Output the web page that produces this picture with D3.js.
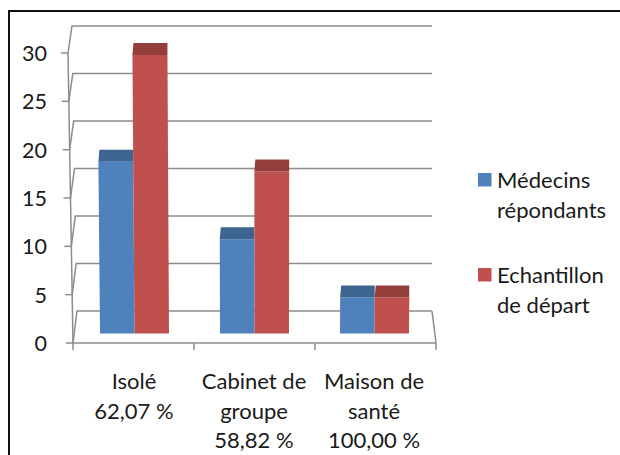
<!DOCTYPE html>
<html>
<head>
<meta charset="utf-8">
<script src="https://cdn.jsdelivr.net/npm/d3@7"></script>
<style>
  html, body { margin: 0; padding: 0; background: #fff; overflow: hidden; }
  text { font-family: Lato, "Open Sans", sans-serif; fill: #1a1a1a; }
</style>
</head>
<body>
<div id="chart"></div>
<script>
// data
const categories = ['Isolé', 'Cabinet de groupe', 'Maison de santé'];
const categoryLines = [['Isolé', '62,07 %'], ['Cabinet de', 'groupe', '58,82 %'], ['Maison de', 'santé', '100,00 %']];
const repondants = [19, 11, 5];
const echantillon = [30, 18, 5];
const yTicks = [0, 5, 10, 15, 20, 25, 30];
const seriesNames = [['Médecins', 'répondants'], ['Echantillon', 'de départ']];
const colors = ['#4f81bd', '#c0504d'];
const capColors = ['#3d6590', '#933e3b'];

const width = 620, height = 455;
const svg = d3.select('#chart').append('svg')
  .attr('width', width).attr('height', height);

// frame, runs off the picture on the right and at the bottom
svg.append('rect')
  .attr('x', 9).attr('y', 11).attr('width', 640).attr('height', 470)
  .attr('fill', '#fff').attr('stroke', '#111').attr('stroke-width', 2);

// scales
const yFront = d3.scaleLinear().domain([0, 30]).range([343, 53]);
const yBack = d3.scaleLinear().domain([0, 30]).range([311, 26]);
const yBar = d3.scaleLinear().domain([0, 30]).range([346, 55]);
const xFront = d3.scaleBand().domain(categories).range([73, 436]);
const xBars = d3.scaleBand().domain(categories).range([74.5, 434.5]);
const xInner = d3.scaleBand().domain([0, 1]).range([25.5, 94.5]);

// the walls lean in slightly going up
const lean = d3.scaleLinear().domain([0, 30]).range([0, 5]);
const grey = '#8c8c8c';
const backLeft = 77, backRight = 432, frontLeft = 73, frontRight = 436;

const grid = svg.append('g').attr('fill', 'none').attr('stroke', grey).attr('stroke-width', 1.5);
yTicks.forEach(v => {
  grid.append('path').attr('d', d3.line()([
    [frontLeft - lean(v), yFront(v)],
    [backLeft - lean(v), yBack(v)],
    [backRight, yBack(v)]
  ]));
  grid.append('line')
    .attr('x1', frontLeft - lean(v) - 7).attr('x2', frontLeft - lean(v))
    .attr('y1', yFront(v)).attr('y2', yFront(v));
  svg.append('text')
    .attr('x', 47).attr('y', yFront(v) + 8)
    .attr('text-anchor', 'end').attr('font-size', 21.5)
    .text(v);
});
grid.append('line')
  .attr('x1', frontLeft).attr('y1', yFront(0))
  .attr('x2', frontLeft - lean(30)).attr('y2', yFront(30));
grid.append('line')
  .attr('x1', frontLeft).attr('y1', yFront(0))
  .attr('x2', frontRight).attr('y2', yFront(0));
grid.append('line')
  .attr('x1', backRight).attr('y1', yBack(0))
  .attr('x2', frontRight).attr('y2', yFront(0));
categories.concat([null]).forEach(c => {
  const x0 = c ? xFront(c) : frontRight;
  grid.append('line').attr('x1', x0).attr('x2', x0).attr('y1', yFront(0)).attr('y2', yFront(0) + 7);
});

// bars, base sits a little above the front edge of the floor
const barBase = 1.3;
const capH = 12;
const skew = (x, v) => x + (x - 270) * 0.000055 * (yBar(barBase) - yBar(v));

[repondants, echantillon].forEach((vals, s) => {
  const g = svg.append('g');
  vals.forEach((v, i) => {
    const left = xBars(categories[i]) + xInner(s);
    const right = left + xInner.bandwidth();
    g.append('path').attr('d', d3.line()([
      [skew(left, barBase), yBar(barBase)],
      [skew(right, barBase), yBar(barBase)],
      [skew(right, v), yBar(v)],
      [skew(left, v), yBar(v)]
    ]) + 'Z').attr('fill', colors[s]);
    g.append('path').attr('d', d3.line()([
      [skew(left, v), yBar(v)],
      [skew(right, v), yBar(v)],
      [skew(right, v), yBar(v) - capH],
      [skew(left, v) + 1, yBar(v) - capH]
    ]) + 'Z').attr('fill', capColors[s]);
  });
});

// category labels
categoryLines.forEach((lines, i) => {
  const cx = xBars(categories[i]) + xBars.bandwidth() / 2 - 0.5;
  lines.forEach((t, k) => {
    svg.append('text')
      .attr('x', cx).attr('y', 389 + k * 29.7)
      .attr('text-anchor', 'middle').attr('font-size', 22)
      .text(t);
  });
});

// legend
seriesNames.forEach((lines, s) => {
  const y0 = 173 + s * 95;
  svg.append('rect')
    .attr('x', 478).attr('y', y0).attr('width', 13.5).attr('height', 13.5)
    .attr('fill', colors[s]);
  lines.forEach((t, k) => {
    svg.append('text')
      .attr('x', 497).attr('y', y0 + 15 + k * 29.5)
      .attr('font-size', 22)
      .text(t);
  });
});
</script>
</body>
</html>
